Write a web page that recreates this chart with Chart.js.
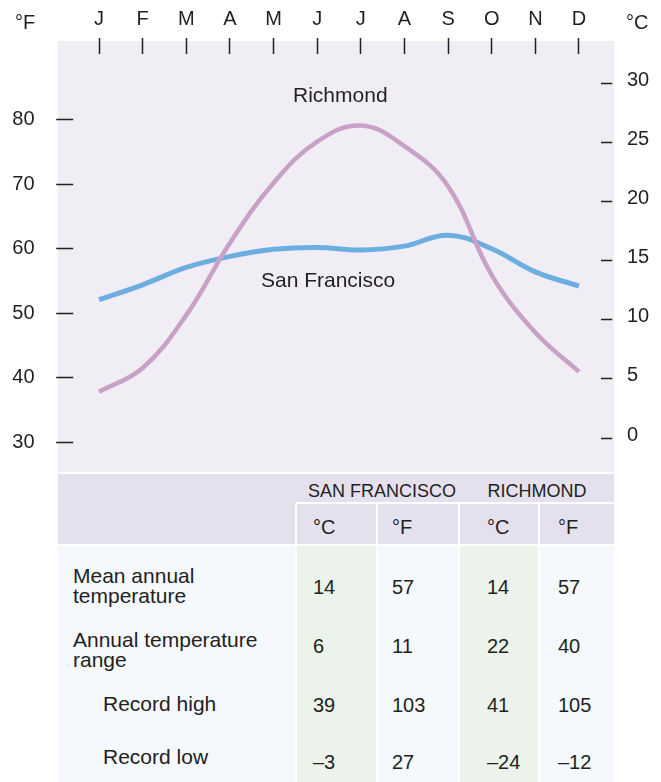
<!DOCTYPE html>
<html>
<head>
<meta charset="utf-8">
<script src="https://cdn.jsdelivr.net/npm/chart.js@4/dist/chart.umd.min.js"></script>
<style>
  body { margin: 0; width: 661px; height: 782px; position: relative; overflow: hidden; background: #fff;
         font-family: 'Liberation Sans', Arial, sans-serif; color: #231f20; }
  .abs { position: absolute; white-space: pre; }
  #panel { position: absolute; left: 58px; top: 41px; width: 556px; height: 431px; background: #f0edf5; }
  #climate { position: absolute; left: 0; top: 0; }
</style>
</head>
<body>
<div id="panel"></div>
<canvas id="climate" width="661" height="472"></canvas>
<div id="table"></div>
<script>
// monthly mean temperatures, °F
const months = ["J", "F", "M", "A", "M", "J", "J", "A", "S", "O", "N", "D"];
const richmondF = [37.8, 41.5, 49.7, 60.9, 70.2, 76.6, 79.1, 75.9, 69.7, 55.9, 47.0, 40.9];
const sanFranciscoF = [52.1, 54.4, 57.1, 58.8, 59.9, 60.2, 59.8, 60.4, 62.1, 60.0, 56.4, 54.2];

// axis ticks
const fahrenheitTicks = [30, 40, 50, 60, 70, 80];
const celsiusTicks = [0, 5, 10, 15, 20, 25, 30];

// summary table
const tableCities = ["SAN FRANCISCO", "RICHMOND"];
const tableUnits = ["°C", "°F", "°C", "°F"];
const tableRows = ["Mean annual\ntemperature", "Annual temperature\nrange", "Record high", "Record low"];
const sanFranciscoC = [14, 6, 39, -3];
const sanFranciscoStatsF = [57, 11, 103, 27];
const richmondC = [14, 22, 41, -24];
const richmondStatsF = [57, 40, 105, -12];

const FONT = "'Liberation Sans', Arial, sans-serif";
const INK = "#231f20";

// city names written next to their curves
const lineLabels = {
  id: "lineLabels",
  afterDatasetsDraw(chart) {
    const { ctx, scales } = chart;
    const x = scales.x, y = scales.yF;
    ctx.save();
    ctx.font = "21px " + FONT;
    ctx.fillStyle = INK;
    ctx.textAlign = "center";
    ctx.textBaseline = "middle";
    ctx.fillText("Richmond", x.getPixelForValue(5.53), y.getPixelForValue(83.7));
    ctx.fillText("San Francisco", x.getPixelForValue(5.25), y.getPixelForValue(54.9));
    ctx.restore();
  }
};

const tickFont = { family: FONT, size: 20 };

// fixed axis width, and no extra room reserved for the end labels
const fitWidth = w => s => { s.width = w; s.paddingTop = 0; s.paddingBottom = 0; };

new Chart(document.getElementById("climate"), {
  type: "line",
  data: {
    labels: months,
    datasets: [
      { label: "Richmond", data: richmondF, borderColor: "#c9a1c6", borderWidth: 4.5, yAxisID: "yF" },
      { label: "San Francisco", data: sanFranciscoF, borderColor: "#6caee0", borderWidth: 5, yAxisID: "yF" }
    ]
  },
  options: {
    responsive: false,
    animation: false,
    layout: { padding: 0 },
    elements: {
      point: { radius: 0, hoverRadius: 0 },
      line: { tension: 0.4, fill: false }
    },
    plugins: { legend: { display: false }, tooltip: { enabled: false } },
    scales: {
      x: {
        position: "top",
        offset: true,
        border: { display: false },
        grid: { drawOnChartArea: false, tickLength: 16, tickColor: INK, tickWidth: 1.5 },
        ticks: { font: tickFont, color: INK, padding: 7, maxRotation: 0, autoSkip: false }
      },
      yF: {
        position: "left",
        min: 25.36,
        max: 90.2,
        afterBuildTicks: s => { s.ticks = fahrenheitTicks.map(v => ({ value: v })); },
        afterFit: fitWidth(77.2),
        border: { display: false },
        grid: { drawOnChartArea: false, tickLength: 21, tickColor: INK, tickWidth: 1.5, tickBorderDash: [17, 40] },
        ticks: { font: tickFont, color: INK, padding: 21.7 }
      },
      yC: {
        position: "right",
        min: -2.87,
        max: 32.47,
        afterBuildTicks: s => { s.ticks = celsiusTicks.map(v => ({ value: v })); },
        afterFit: fitWidth(60.2),
        border: { display: false },
        grid: { drawOnChartArea: false, tickLength: 11.5, tickColor: INK, tickWidth: 1.5 },
        ticks: { font: tickFont, color: INK, padding: 14.7, labelOffset: -3 }
      }
    }
  },
  plugins: [lineLabels]
});

// ---- unit captions and table ----
const root = document.getElementById("table");

function box(left, top, width, height, color) {
  const d = document.createElement("div");
  d.className = "abs";
  Object.assign(d.style, { left: left + "px", top: top + "px", width: width + "px", height: height + "px", background: color });
  root.appendChild(d);
}

function label(str, left, centerY, size, align) {
  const d = document.createElement("div");
  d.className = "abs";
  d.textContent = str;
  const lh = size;
  Object.assign(d.style, { top: (centerY - lh / 2) + "px", fontSize: size + "px", lineHeight: lh + "px" });
  if (align === "center") {
    d.style.left = (left - 100) + "px";
    d.style.width = "200px";
    d.style.textAlign = "center";
  } else {
    d.style.left = left + "px";
  }
  root.appendChild(d);
}

function fmt(v) { return v < 0 ? "\u2013" + Math.abs(v) : String(v); }

label("°F", 15, 22, 20);
label("°C", 626, 22, 20);

// backgrounds
box(58, 474, 556, 70, "#e5e0ee");
box(58, 546, 556, 236, "#f5f8fc");
const colEdges = [296, 377, 459, 539, 614];
box(colEdges[0] + 1, 546, colEdges[1] - colEdges[0] - 2, 236, "#ecf3ea");
box(colEdges[2] + 1, 546, colEdges[3] - colEdges[2] - 2, 236, "#ecf3ea");
box(colEdges[0], 502, colEdges[4] - colEdges[0], 2, "#fff");
for (let i = 0; i < 4; i++) {
  box(colEdges[i] - 1, 503, 2, 41, "#fff");
  box(colEdges[i] - 1, 546, 2, 236, "#fff");
}

// headings
label(tableCities[0], 382, 491, 18, "center");
label(tableCities[1], 537, 491, 18, "center");
const colText = [313, 392, 487, 558];
tableUnits.forEach((u, i) => label(u, colText[i], 527, 20));

// rows
const rowLabelY = [585, 649, 703, 756];
const rowValueY = [586.5, 646.3, 704.5, 762.3];
tableRows.forEach((r, i) => {
  const lines = r.split("\n");
  const indent = i < 2 ? 73 : 103;
  lines.forEach((ln, k) => label(ln, indent, rowLabelY[i] + (k - (lines.length - 1) / 2) * 20, 21));
  const vals = [sanFranciscoC[i], sanFranciscoStatsF[i], richmondC[i], richmondStatsF[i]];
  vals.forEach((v, c) => label(fmt(v), colText[c], rowValueY[i], 20));
});
</script>
</body>
</html>
